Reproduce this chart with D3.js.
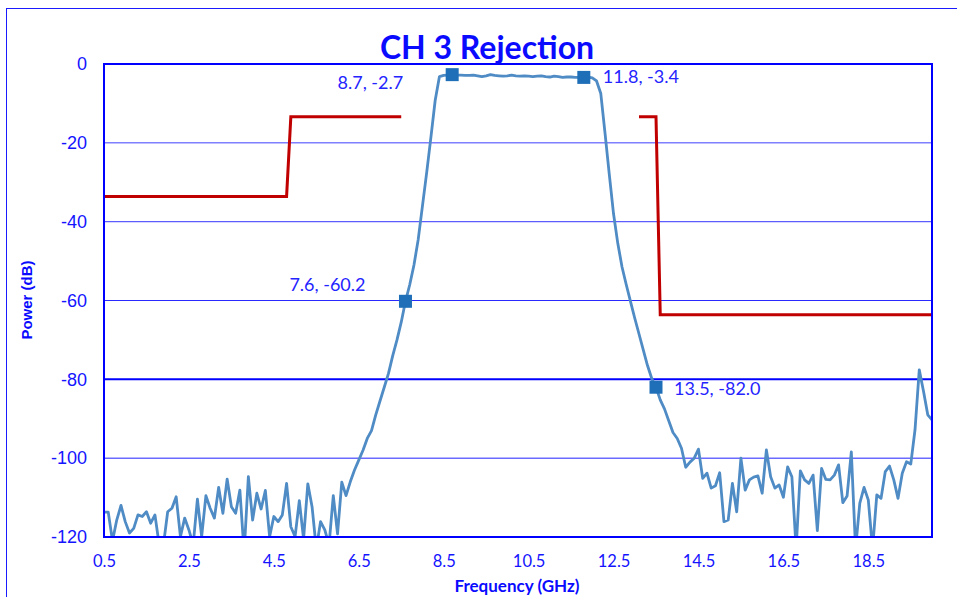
<!DOCTYPE html>
<html>
<head>
<meta charset="utf-8">
<script src="https://cdn.jsdelivr.net/npm/d3@7"></script>
<style>
	body { margin:0; background:#fff; }
	#chart svg { display:block; }
</style>
</head>
<body>
<div id="chart"></div>
<script>

//data : measured power, one point every 0.1 GHz from 0.5 GHz
const freqStart = 0.5;
const freqStep = 0.1;
const power = [
	-113.7,-113.7,-121,-115.7,-112.0,-116.1,-119.0,-117.8,-114.4,-114.8,
	-113.6,-116.5,-114.4,-122,-122,-113.6,-112.7,-109.8,-119.9,-115.2,
	-118.2,-122,-110.4,-119.9,-109.5,-112.7,-115.2,-107.4,-114.0,-105.3,
	-112.3,-114.0,-108.1,-124,-104.7,-115.7,-108.9,-112.9,-108.2,-119.9,
	-114.8,-116.1,-114.4,-106.4,-117.4,-119.9,-110.8,-120.5,-106.5,-112.3,
	-123,-116.1,-118.2,-122,-109.5,-119.2,-106.1,-109.5,-106,-103,
	-100.5,-98,-95,-93,-89,-85.5,-82,-78.5,-74,-70,
	-65.5,-60.2,-56,-51,-44.5,-36,-27.5,-18.5,-9.2,-3.2,
	-2.9,-2.8,-2.7,-2.8,-2.8,-2.9,-2.9,-2.8,-3.0,-3.2,
	-3.0,-2.7,-2.9,-3.0,-3.1,-3.0,-2.8,-3.0,-3.1,-3.0,
	-3.1,-3.2,-3.1,-3.0,-3.2,-3.3,-3.1,-3.2,-3.4,-3.3,
	-3.3,-3.4,-3.4,-3.4,-3.3,-3.5,-4.3,-7.5,-17.6,-28,
	-38,-45.5,-51.5,-56,-60.3,-64.5,-68.5,-72.5,-76.5,-79.8,
	-82.0,-85.2,-87.5,-90.5,-93.5,-95.0,-97.5,-102.3,-101,-100,
	-97.7,-105.1,-103.8,-107.6,-107.0,-103.7,-116.1,-115.7,-106.4,-113.6,
	-100.0,-108.1,-105.5,-104.8,-104.5,-108.9,-97.9,-104.7,-107.6,-106.8,
	-109.9,-102.2,-104.7,-123,-103.2,-105.5,-106.4,-104.3,-118.4,-102.6,
	-105.4,-105.5,-104.3,-101.7,-111.3,-109.6,-98.4,-123,-111.4,-107.4,
	-110.6,-123,-109.3,-110.2,-103.4,-102,-105.5,-110.2,-103.8,-100.9,
	-101.5,-92.8,-77.6,-83,-89,-90.3
];

//rejection mask (two segments)
const maskLowFreq = [0.5, 4.8, 4.9, 7.5];
const maskLowDb = [-33.6, -33.6, -13.4, -13.4];
const maskHighFreq = [13.1, 13.5, 13.6, 20];
const maskHighDb = [-13.4, -13.4, -63.6, -63.6];

//marked points
const markFreq = [8.7, 11.8, 7.6, 13.5];
const markDb = [-2.7, -3.4, -60.2, -82.0];

//axis ticks
const xTicks = [0.5, 2.5, 4.5, 6.5, 8.5, 10.5, 12.5, 14.5, 16.5, 18.5];
const yTicks = [0, -20, -40, -60, -80, -100, -120];


function graph(){

	//sizing
	let width = 957;
	let height = 597;
	let plot = {left:104, right:932, top:64, bottom:537};

	let blue = "#1414ff";

	let svg = d3.select("#chart")
		.append("svg")
		.attr("width", width)
		.attr("height", height);

	//chart border
	svg.append("rect")
		.attr("x", 6.5)
		.attr("y", 8.5)
		.attr("width", 960)
		.attr("height", 600)
		.attr("fill", "none")
		.attr("stroke", "#1a1aff")
		.attr("stroke-width", 1);

	//scales
	let x = d3.scaleLinear()
		.domain([0.5, 20])
		.range([plot.left, plot.right]);

	let y = d3.scaleLinear()
		.domain([-120, 0])
		.range([plot.bottom, plot.top]);

	//gridlines (each one drawn a bit differently, as in the original)
	let gridStyle = {
		"-20": {c:"#7f7fff", w:1.5},
		"-40": {c:"#5c5cff", w:1.2},
		"-60": {c:"#2a2aff", w:1.2},
		"-80": {c:"#0000ff", w:2},
		"-100": {c:"#6a6aff", w:1.5}
	};
	svg.append("g")
		.selectAll("line")
		.data(yTicks.filter(d => d != 0 && d != -120))
		.join("line")
		.attr("x1", plot.left)
		.attr("x2", plot.right)
		.attr("y1", d => y(d))
		.attr("y2", d => y(d))
		.attr("stroke", d => gridStyle[d].c)
		.attr("stroke-width", d => gridStyle[d].w);

	//y axis labels (plain hyphen like the original)
	let yAxis = d3.axisLeft(y)
		.tickValues(yTicks)
		.tickSize(0)
		.tickPadding(17)
		.tickFormat(d => String(d));

	svg.append("g")
		.attr("transform", `translate(${plot.left},0)`)
		.call(yAxis)
		.call(g => g.select(".domain").remove())
		.selectAll("text")
		.attr("fill", blue)
		.attr("font-family", "'Liberation Sans', Arial, sans-serif")
		.attr("font-size", 18);

	//x axis labels
	let xAxis = d3.axisBottom(x)
		.tickValues(xTicks)
		.tickSize(0)
		.tickPadding(18)
		.tickFormat(d3.format(".1f"));

	svg.append("g")
		.attr("transform", `translate(0,${plot.bottom})`)
		.call(xAxis)
		.call(g => g.select(".domain").remove())
		.selectAll("text")
		.attr("fill", blue)
		.attr("font-family", "Lato, sans-serif")
		.attr("font-size", 16.5);

	//clip to the plot area
	svg.append("clipPath")
		.attr("id", "clip")
		.append("rect")
		.attr("x", plot.left)
		.attr("y", plot.top)
		.attr("width", plot.right - plot.left)
		.attr("height", plot.bottom - plot.top);

	let g = svg.append("g").attr("clip-path", "url(#clip)");

	//mask
	let maskLine = d3.line()
		.x(d => x(d[0]))
		.y(d => y(d[1]));

	[[maskLowFreq, maskLowDb], [maskHighFreq, maskHighDb]].forEach(function(m){
		g.append("path")
			.datum(m[0].map((f, i) => [f, m[1][i]]))
			.attr("d", maskLine)
			.attr("fill", "none")
			.attr("stroke", "#c00000")
			.attr("stroke-width", 3);
	});

	//measured trace
	let trace = power.map((p, i) => [freqStart + i * freqStep, p]);

	g.append("path")
		.datum(trace)
		.attr("d", maskLine)
		.attr("fill", "none")
		.attr("stroke", "#4f8bc4")
		.attr("stroke-width", 2.8)
		.attr("stroke-linejoin", "round");

	//plot border
	svg.append("rect")
		.attr("x", plot.left)
		.attr("y", plot.top)
		.attr("width", plot.right - plot.left)
		.attr("height", plot.bottom - plot.top)
		.attr("fill", "none")
		.attr("stroke", "#0000ff")
		.attr("stroke-width", 2);

	//markers + labels
	let labelPos = [
		{dx:-49, dy:14, anchor:"end"},
		{dx:19, dy:6, anchor:"start"},
		{dx:-40, dy:-10, anchor:"end"},
		{dx:18, dy:8, anchor:"start"}
	];

	markFreq.forEach(function(f, i){
		svg.append("rect")
			.attr("x", x(f) - 6.5)
			.attr("y", y(markDb[i]) - 6.5)
			.attr("width", 13)
			.attr("height", 13)
			.attr("fill", "#1f6fb8");

		svg.append("text")
			.attr("x", x(f) + labelPos[i].dx)
			.attr("y", y(markDb[i]) + labelPos[i].dy)
			.attr("text-anchor", labelPos[i].anchor)
			.attr("fill", "#2424ff")
			.attr("font-family", "Lato, sans-serif")
			.attr("font-size", 18)
			.text(f.toFixed(1) + ", " + markDb[i].toFixed(1));
	});

	//titles
	svg.append("text")
		.attr("x", 487)
		.attr("y", 59)
		.attr("text-anchor", "middle")
		.attr("fill", "#0a0aff")
		.attr("font-family", "Lato, sans-serif")
		.attr("font-weight", "bold")
		.attr("font-size", 32)
		.text("CH 3 Rejection");

	svg.append("text")
		.attr("x", 517)
		.attr("y", 592)
		.attr("text-anchor", "middle")
		.attr("fill", "#0a0aff")
		.attr("font-family", "Lato, sans-serif")
		.attr("font-weight", "bold")
		.attr("font-size", 17)
		.text("Frequency (GHz)");

	svg.append("text")
		.attr("transform", "translate(32,300) rotate(-90)")
		.attr("text-anchor", "middle")
		.attr("fill", "#0a0aff")
		.attr("font-family", "'Liberation Sans', Arial, sans-serif")
		.attr("font-weight", "bold")
		.attr("font-size", 15)
		.text("Power (dB)");

}

graph();

</script>
</body>
</html>
